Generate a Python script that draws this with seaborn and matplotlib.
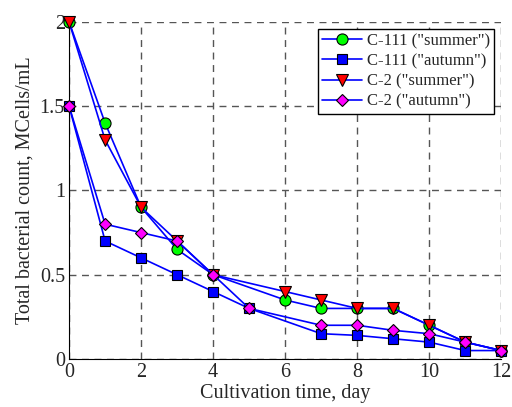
import pandas as pd
import seaborn as sns
import matplotlib.pyplot as plt

# cultivation day and counts (MCells/mL)
days_summer = [0, 1, 2, 3, 4, 6, 7, 8, 9, 10, 11, 12]
days_autumn = [0, 1, 2, 3, 4, 5, 7, 8, 9, 10, 11, 12]

c111_summer = [2.0, 1.4, 0.9, 0.65, 0.5, 0.35, 0.3, 0.3, 0.3, 0.2, 0.1, 0.05]
c111_autumn = [1.5, 0.7, 0.6, 0.5, 0.4, 0.3, 0.15, 0.14, 0.12, 0.1, 0.05, 0.05]
c2_summer = [2.0, 1.3, 0.9, 0.7, 0.5, 0.4, 0.35, 0.3, 0.3, 0.2, 0.1, 0.05]
c2_autumn = [1.5, 0.8, 0.75, 0.7, 0.5, 0.3, 0.2, 0.2, 0.17, 0.15, 0.1, 0.05]

labels = ['C-111 ("summer")', 'C-111 ("autumn")', 'C-2 ("summer")', 'C-2 ("autumn")']
series = [(days_summer, c111_summer), (days_autumn, c111_autumn),
          (days_summer, c2_summer), (days_autumn, c2_autumn)]
markers = ["o", "s", "v", "D"]
faces = ["#00ff00", "#0000ff", "#ff0000", "#ff00ff"]
msizes = [8, 6.5, 8.5, 6.5]

sns.set_style("white")
plt.rcParams["font.family"] = ["Liberation Serif", "DejaVu Serif"]

fig = plt.figure(figsize=(5.12, 4.07), dpi=100)
ax = fig.add_axes([0.135, 0.118, 0.844, 0.828])

for (x, y), lab, m, fc, ms in zip(series, labels, markers, faces, msizes):
    df = pd.DataFrame({"day": x, "count": y})
    sns.lineplot(data=df, x="day", y="count", ax=ax, color="#0000ff", lw=1.2,
                 marker=m, markersize=ms, markerfacecolor=fc,
                 markeredgecolor="black", markeredgewidth=0.8, label=lab,
                 clip_on=False, zorder=3)

ax.set_xlim(0, 12)
ax.set_ylim(0, 2)
ax.set_xticks(range(0, 13, 2))
ax.set_yticks([0, 0.5, 1, 1.5, 2])
ax.set_yticklabels(["0", "0.5", "1", "1.5", "2"])
ax.grid(True, color="#555555", linestyle=(0, (5, 4)), linewidth=1.0)
for s in ["top", "right"]:
    ax.spines[s].set_visible(False)
for s in ["left", "bottom"]:
    ax.spines[s].set_color("black")
    ax.spines[s].set_linewidth(0.8)
ax.tick_params(direction="in", length=4, labelsize=14.5, pad=3)
ax.set_xlabel("Cultivation time, day", fontsize=14.5, labelpad=1)
ax.set_ylabel("Total bacterial count, MCells/mL", fontsize=14.5, labelpad=4)

leg = ax.legend(loc="upper right", bbox_to_anchor=(1, 1), fontsize=12,
                frameon=True, fancybox=False, edgecolor="black", framealpha=1,
                handlelength=2.4, borderpad=0.25, labelspacing=0.25,
                handletextpad=0.3, borderaxespad=0.42)
leg.get_frame().set_linewidth(1.0)

fig.savefig("out.png", dpi=100)
